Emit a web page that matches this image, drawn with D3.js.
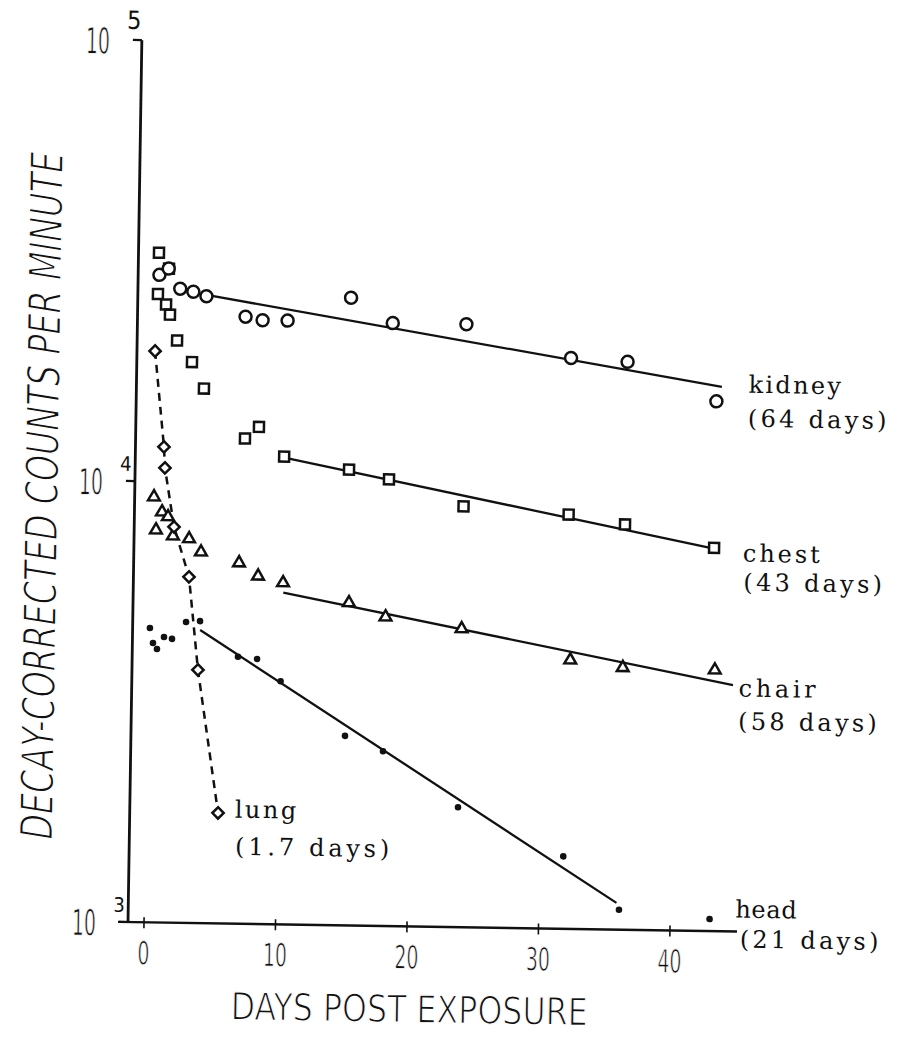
<!DOCTYPE html>
<html>
<head>
<meta charset="utf-8">
<script src="https://cdn.jsdelivr.net/npm/d3@7"></script>
<style>
  html, body { margin: 0; padding: 0; background: #fff; }
  svg { display: block; }
</style>
</head>
<body>
<div id="chart"></div>
<script>
// values (days post exposure, decay-corrected cpm)
const kidneyDays = [0.4, 1.1, 2.0, 3.0, 4.0, 7.0, 8.3, 10.2, 15.0, 18.2, 23.8, 31.8, 36.1, 42.9];
const kidneyCpm  = [29400, 30400, 27400, 27000, 26400, 23800, 23400, 23400, 26500, 23300, 23300, 19700, 19400, 15900];
const kidneyFit  = [[4.0, 26580], [43.3, 17160]];

const chestDays = [0.34, 1.12, 0.31, 0.94, 1.25, 1.82, 2.98, 3.92, 7.1, 8.15, 10.1, 15.05, 18.1, 23.8, 31.8, 36.1, 42.9];
const chestCpm  = [33000, 30400, 26600, 25200, 23900, 20900, 18700, 16300, 12600, 13400, 11500, 10800, 10300, 9000, 8700, 8300, 7400];
const chestFit  = [[10.2, 11420], [42.7, 7390]];

const chairDays = [0.25, 0.88, 1.34, 0.44, 1.74, 2.97, 3.89, 6.8, 8.26, 10.17, 15.2, 18.0, 23.8, 32.1, 36.1, 43.1];
const chairCpm  = [9220, 8530, 8320, 7760, 7530, 7430, 6940, 6580, 6150, 5950, 5390, 5020, 4750, 4070, 3930, 3910];
const chairFit  = [[10.2, 5650], [44.5, 3620]];

const lungDays = [0.16, 0.95, 1.05, 1.81, 3.01, 3.8, 5.5];
const lungCpm  = [19750, 11980, 10740, 7900, 6090, 3750, 1780];

const headDays = [0.1, 0.35, 0.66, 1.18, 1.79, 2.84, 3.9, 6.83, 8.28, 10.1, 15.06, 17.97, 23.74, 31.8, 36.1, 43.0];
const headCpm  = [4650, 4300, 4170, 4440, 4400, 4810, 4840, 4030, 3990, 3560, 2690, 2490, 1870, 1460, 1110, 1065];
const headFit  = [[3.92, 4620], [35.9, 1150]];

const xTicks = [0, 10, 20, 30, 40];
const yTicks = [1e3, 1e4, 1e5];
const yTickExp = ["3", "4", "5"];

const seriesLabels = [
  { name: "kidney", half: "(64 days)", at: [740, 383, 740, 417] },
  { name: "chest",  half: "(43 days)", at: [737, 552, 738, 581] },
  { name: "chair",  half: "(58 days)", at: [735, 687, 735, 720] },
  { name: "lung",   half: "(1.7 days)", at: [233, 816, 234, 853] },
  { name: "head",   half: "(21 days)", at: [735, 908, 740, 938] }
];

const W = 902, H = 1039;
const ink = "#111";
const sansFont = "'Liberation Sans Narrow', 'DejaVu Sans Condensed', 'Liberation Sans', sans-serif";
const typeFont = "'DejaVu Serif', 'Liberation Serif', serif";

const svg = d3.select("#chart").append("svg")
  .attr("width", W)
  .attr("height", H);

svg.append("rect").attr("width", W).attr("height", H).attr("fill", "#fff");

// the scan sits a little skewed, so the whole plot is turned slightly
const g = svg.append("g").attr("transform", "rotate(0.9,128,922)");

const x = d3.scaleLinear().domain([0, 40]).range([144, 670]);
const y = d3.scaleLog().domain([1e3, 1e5]).range([922, 40]);
const axisX = 128;

// thin the sans lettering a bit, the original is drawn with a fine pen
function thin(sel, w) {
  sel.style("stroke", "#fff").style("stroke-width", w).style("paint-order", "normal");
}

// axes
g.append("line")
  .attr("x1", axisX).attr("x2", axisX)
  .attr("y1", y(1e5)).attr("y2", y(1e3))
  .attr("stroke", ink).attr("stroke-width", 2.8);

g.append("line")
  .attr("x1", axisX - 10).attr("x2", x(45.1))
  .attr("y1", y(1e3)).attr("y2", y(1e3))
  .attr("stroke", ink).attr("stroke-width", 2.4);

g.selectAll(".ytick")
  .data(yTicks)
  .join("line")
    .attr("class", "ytick")
    .attr("x1", axisX - 9).attr("x2", axisX)
    .attr("y1", d => y(d)).attr("y2", d => y(d))
    .attr("stroke", ink).attr("stroke-width", 2.2);

g.selectAll(".xtick")
  .data(xTicks)
  .join("line")
    .attr("class", "xtick")
    .attr("x1", d => x(d)).attr("x2", d => x(d))
    .attr("y1", y(1e3) - 5).attr("y2", y(1e3) + 6)
    .attr("stroke", ink).attr("stroke-width", 1.6);

g.selectAll(".xlab")
  .data(xTicks)
  .join("text")
    .attr("class", "xlab")
    .attr("x", d => x(d))
    .attr("y", y(1e3) + 42)
    .attr("text-anchor", "middle")
    .attr("textLength", d => String(d).length * 12)
    .attr("lengthAdjust", "spacingAndGlyphs")
    .style("font-family", sansFont)
    .style("font-size", "32px")
    .style("fill", ink)
    .call(thin, 0.8)
    .text(d => d);

g.selectAll(".ylab")
  .data(yTicks)
  .join("text")
    .attr("class", "ylab")
    .attr("x", 96)
    .attr("y", d => y(d) + 14)
    .attr("text-anchor", "end")
    .attr("textLength", 24)
    .attr("lengthAdjust", "spacingAndGlyphs")
    .style("font-family", sansFont)
    .style("font-size", "36px")
    .style("fill", ink)
    .call(thin, 0.8)
    .text("10");

g.selectAll(".yexp")
  .data(yTicks)
  .join("text")
    .attr("class", "yexp")
    .attr("x", 113)
    .attr("y", (d, i) => y(d) - (i === 2 ? 11 : 10))
    .style("font-family", sansFont)
    .style("font-size", (d, i) => i === 2 ? "25px" : "20px")
    .style("fill", ink)
    .text((d, i) => yTickExp[i]);

// axis titles; the y title is squeezed with a scale so it spans 688px
const yTitle = g.append("text")
  .attr("text-anchor", "middle")
  .style("font-family", sansFont)
  .style("font-style", "italic")
  .style("font-size", "45px")
  .style("fill", ink)
  .call(thin, 1.4)
  .text("DECAY-CORRECTED COUNTS PER MINUTE");
const yTitleScale = 688 / yTitle.node().getComputedTextLength();
yTitle.attr("transform", `translate(51,497) rotate(-90) scale(${yTitleScale},1)`);

g.append("text")
  .attr("x", 232)
  .attr("y", 1018)
  .attr("textLength", 357)
  .attr("lengthAdjust", "spacingAndGlyphs")
  .style("font-family", sansFont)
  .style("font-size", "38px")
  .style("fill", ink)
  .call(thin, 1.2)
  .text("DAYS POST EXPOSURE");

// fitted lines
const line = d3.line().x(d => x(d[0])).y(d => y(d[1]));
const fits = [kidneyFit, chestFit, chairFit, headFit];

g.selectAll(".fit")
  .data(fits)
  .join("path")
    .attr("class", "fit")
    .attr("d", line)
    .attr("fill", "none")
    .attr("stroke", ink)
    .attr("stroke-width", 2.3);

g.append("path")
  .datum(d3.zip(lungDays, lungCpm))
  .attr("d", line)
  .attr("fill", "none")
  .attr("stroke", ink)
  .attr("stroke-width", 2.5)
  .attr("stroke-dasharray", "8,6");

// markers
function drawSeries(days, cpm, symbol, size, rotate, cls) {
  g.selectAll("." + cls)
    .data(d3.zip(days, cpm))
    .join("path")
      .attr("class", cls)
      .attr("transform", d => `translate(${x(d[0])},${y(d[1])}) rotate(${rotate})`)
      .attr("d", d3.symbol(symbol, size))
      .attr("fill", "#fff")
      .attr("stroke", ink)
      .attr("stroke-width", 2.5);
}

drawSeries(chestDays, chestCpm, d3.symbolSquare, 100, 0, "chest");
drawSeries(kidneyDays, kidneyCpm, d3.symbolCircle, 113, 0, "kidney");
drawSeries(chairDays, chairCpm, d3.symbolTriangle, 60, 0, "chair");
drawSeries(lungDays, lungCpm, d3.symbolSquare, 64, 45, "lung");

g.selectAll(".head")
  .data(d3.zip(headDays, headCpm))
  .join("circle")
    .attr("class", "head")
    .attr("cx", d => x(d[0]))
    .attr("cy", d => y(d[1]))
    .attr("r", 3.3)
    .attr("fill", ink);

// series labels in typewriter style
const labelG = g.selectAll(".slabel")
  .data(seriesLabels)
  .join("g")
    .attr("class", "slabel");

labelG.append("text")
  .attr("x", d => d.at[0])
  .attr("y", d => d.at[1])
  .attr("textLength", d => d.name.length * 15.4)
  .attr("lengthAdjust", "spacing")
  .style("font-family", typeFont)
  .style("font-size", "24px")
  .style("fill", ink)
  .text(d => d.name);

labelG.append("text")
  .attr("x", d => d.at[2])
  .attr("y", d => d.at[3])
  .attr("textLength", d => d.half.length * 15.4)
  .attr("lengthAdjust", "spacing")
  .style("font-family", typeFont)
  .style("font-size", "24px")
  .style("fill", ink)
  .text(d => d.half);
</script>
</body>
</html>
